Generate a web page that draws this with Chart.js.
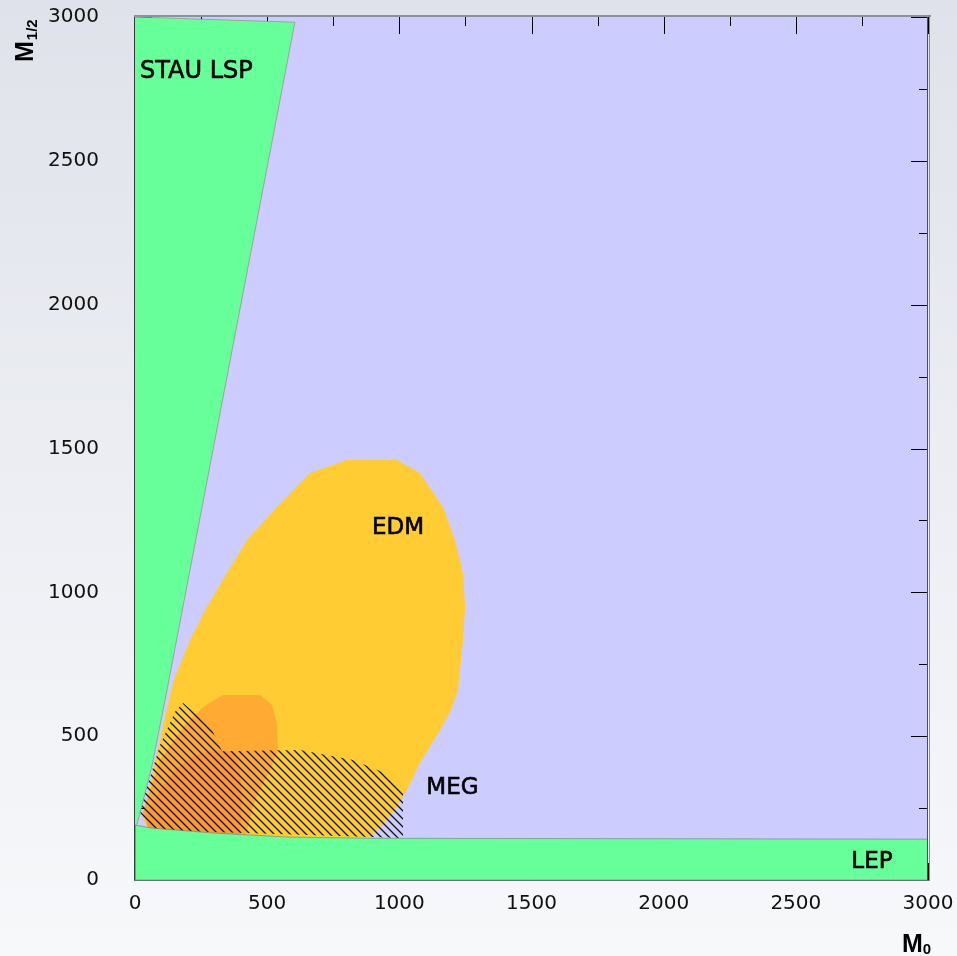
<!DOCTYPE html>
<html>
<head>
<meta charset="utf-8">
<script src="https://cdn.jsdelivr.net/npm/chart.js@4.4.1/dist/chart.umd.min.js"></script>
<style>
  html, body { margin: 0; padding: 0; }
  body {
    width: 957px; height: 956px; overflow: hidden;
    background: linear-gradient(to bottom, #dfe2ea 0%, #eceef3 50%, #f7f8fa 100%);
  }
  canvas { display: block; }
</style>
</head>
<body>
<canvas id="c" width="957" height="956"></canvas>
<script>
// Axis ticks (M0 horizontal, M1/2 vertical), both 0..3000
const axisTicks = [0, 500, 1000, 1500, 2000, 2500, 3000];

// Excluded / allowed regions in the (M0, M1/2) plane, as polygon outlines
const stauM0  = [0, 605, 121, 65, 19, 8, 0];
const stauM12 = [3000, 2982, 660, 400, 233, 195, 190];

const lepM0  = [3000, 900, 586, 300, 57, 20, 0, 0, 3000];
const lepM12 = [142, 145, 149, 163, 181, 188, 190, 0, 0];

const edmM0  = [802, 991, 1078, 1165, 1211, 1241, 1249, 1241, 1222, 1195, 1154, 1078, 1029, 991, 953, 889, 560, 57, 30, 45, 70, 98, 122, 145, 208, 272, 348, 424, 537, 662];
const edmM12 = [1460, 1460, 1415, 1297, 1182, 1067, 949, 834, 660, 590, 521, 407, 313, 254, 209, 149, 146, 174, 210, 280, 380, 500, 600, 690, 834, 949, 1067, 1182, 1297, 1415];

const edmCoreM0  = [333, 473, 518, 537, 541, 511, 454, 416, 57, 30, 95, 189, 257];
const edmCoreM12 = [643, 643, 608, 546, 452, 382, 278, 146, 174, 236, 417, 539, 601];

const edmDeepM0  = [303, 378, 397, 405, 397, 49, 38, 95, 151, 227];
const edmDeepM12 = [452, 445, 382, 278, 153, 177, 226, 313, 382, 434];

const megM0  = [19, 30, 95, 151, 182, 284, 329, 624, 825, 938, 1014, 1014, 57];
const megM12 = [236, 278, 469, 584, 615, 535, 448, 452, 417, 375, 313, 146, 174];

// Region names and their anchor points (M0, M1/2)
const regionNames = ['STAU LSP', 'EDM', 'MEG', 'LEP'];
const labelM0  = [19, 995, 1201, 2788];
const labelM12 = [2788, 1203, 299, 42];

const toPoints = (xs, ys) => xs.map((v, i) => ({ x: v, y: ys[i] }));

// diagonal hatching for the MEG region
function hatchPattern() {
  const pc = document.createElement('canvas');
  pc.width = 8; pc.height = 8;
  const g = pc.getContext('2d');
  g.strokeStyle = '#111';
  g.lineWidth = 1.3;
  g.beginPath();
  g.moveTo(-2, -2); g.lineTo(10, 10);
  g.moveTo(-10, -2); g.lineTo(2, 10);
  g.moveTo(6, -2); g.lineTo(18, 10);
  g.stroke();
  return g.createPattern(pc, 'repeat');
}

const region = (label, xs, ys, color, order, extra = {}) => Object.assign({
  label,
  data: toPoints(xs, ys),
  fill: 'shape',
  backgroundColor: color,
  borderWidth: 0,
  pointRadius: 0,
  tension: 0,
  order
}, extra);

const frame = {
  id: 'frame',
  beforeDatasetsDraw(chart) {
    const { ctx, chartArea: a, scales: { x, y } } = chart;
    ctx.save();
    ctx.fillStyle = '#ccccff';
    ctx.fillRect(a.left, a.top, a.right - a.left, a.bottom - a.top);
    ctx.strokeStyle = '#000';
    ctx.lineWidth = 1;
    ctx.beginPath();
    for (let v = 0; v <= 3000; v += 250) {
      const len = v % 500 === 0 ? 17 : 9;
      const px = Math.round(x.getPixelForValue(v)) + 0.5;
      ctx.moveTo(px, a.top); ctx.lineTo(px, a.top + len);
      ctx.moveTo(px, a.bottom); ctx.lineTo(px, a.bottom - len);
      const py = Math.round(y.getPixelForValue(v)) + 0.5;
      ctx.moveTo(a.left, py); ctx.lineTo(a.left + len, py);
      ctx.moveTo(a.right, py); ctx.lineTo(a.right - len, py);
    }
    ctx.stroke();
    ctx.restore();
  },
  afterDatasetsDraw(chart) {
    const { ctx, chartArea: a, scales: { x, y } } = chart;
    ctx.save();
    // frame
    ctx.fillStyle = '#8c90a2';
    ctx.fillRect(a.left - 1, a.top - 2, a.right - a.left + 4, 2);
    ctx.fillStyle = '#3a3a3a';
    ctx.fillRect(a.left - 1, a.top, 1, a.bottom - a.top + 1);
    ctx.fillStyle = '#707078';
    ctx.fillRect(a.left - 1, a.bottom, a.right - a.left + 3, 1);
    ctx.fillStyle = '#4a4a66';
    ctx.fillRect(a.right - 1, a.top, 1, a.bottom - a.top);
    ctx.fillStyle = '#8a8a9c';
    ctx.fillRect(a.right + 1, a.top - 2, 1, a.bottom - a.top + 3);

    // region names
    ctx.fillStyle = '#000';
    ctx.strokeStyle = '#000';
    ctx.lineWidth = 0.6;
    ctx.textBaseline = 'alphabetic';
    regionNames.forEach((name, i) => {
      ctx.font = (i === 0 ? '24px' : '23px') + ' "DejaVu Sans"';
      ctx.textAlign = i === 0 ? 'left' : 'center';
      const px = x.getPixelForValue(labelM0[i]);
      const py = y.getPixelForValue(labelM12[i]);
      ctx.fillText(name, px, py);
      ctx.strokeText(name, px, py);
    });

    // axis titles
    ctx.textAlign = 'left';
    ctx.font = 'bold 25px "Liberation Sans"';
    const mw = ctx.measureText('M').width;
    ctx.fillText('M', a.right - 26, 952);
    ctx.font = 'bold 15px "Liberation Sans"';
    ctx.fillText('0', a.right - 26 + mw, 954);

    ctx.translate(33, 62);
    ctx.rotate(-Math.PI / 2);
    ctx.font = 'bold 25px "Liberation Sans"';
    ctx.fillText('M', 0, 0);
    ctx.font = 'bold 15px "Liberation Sans"';
    ctx.fillText('1/2', mw + 1, 4);
    ctx.restore();
  }
};

const tickFont = { family: 'DejaVu Sans', size: 20 };
const noPad = s => { s.paddingTop = 0; s.paddingBottom = 0; s.paddingLeft = 0; s.paddingRight = 0; };

new Chart(document.getElementById('c'), {
  type: 'line',
  data: {
    datasets: [
      region('EDM', edmM0, edmM12, '#ffcc33', 6),
      region('EDM core', edmCoreM0, edmCoreM12, '#ffaa33', 5),
      region('EDM deep', edmDeepM0, edmDeepM12, '#ff9933', 4),
      region('MEG', megM0, megM12, hatchPattern(), 3),
      region('STAU LSP', stauM0, stauM12, '#66ff99', 2, { borderWidth: 1, borderColor: 'rgba(150,140,130,0.7)' }),
      region('LEP', lepM0, lepM12, '#66ff99', 1, { borderWidth: 1, borderColor: 'rgba(120,120,120,0.6)' })
    ]
  },
  options: {
    responsive: false,
    animation: false,
    events: [],
    layout: { padding: { top: 17, right: 29, left: 0, bottom: 0 } },
    plugins: { legend: { display: false }, tooltip: { enabled: false } },
    scales: {
      x: {
        type: 'linear', min: 0, max: 3000,
        afterFit: s => { s.height = 76; noPad(s); },
        afterBuildTicks: s => { s.ticks = axisTicks.map(v => ({ value: v })); },
        grid: { display: false, drawTicks: false },
        border: { display: false },
        ticks: { font: tickFont, color: '#111', padding: 12, maxRotation: 0, autoSkip: false, callback: v => String(v) }
      },
      y: {
        type: 'linear', min: 0, max: 3000,
        afterFit: s => { s.width = 135; noPad(s); },
        afterBuildTicks: s => { s.ticks = axisTicks.map(v => ({ value: v })); },
        grid: { display: false, drawTicks: false },
        border: { display: false },
        ticks: { font: tickFont, color: '#111', padding: 36, autoSkip: false, callback: v => String(v) }
      }
    }
  },
  plugins: [frame]
});
</script>
</body>
</html>
